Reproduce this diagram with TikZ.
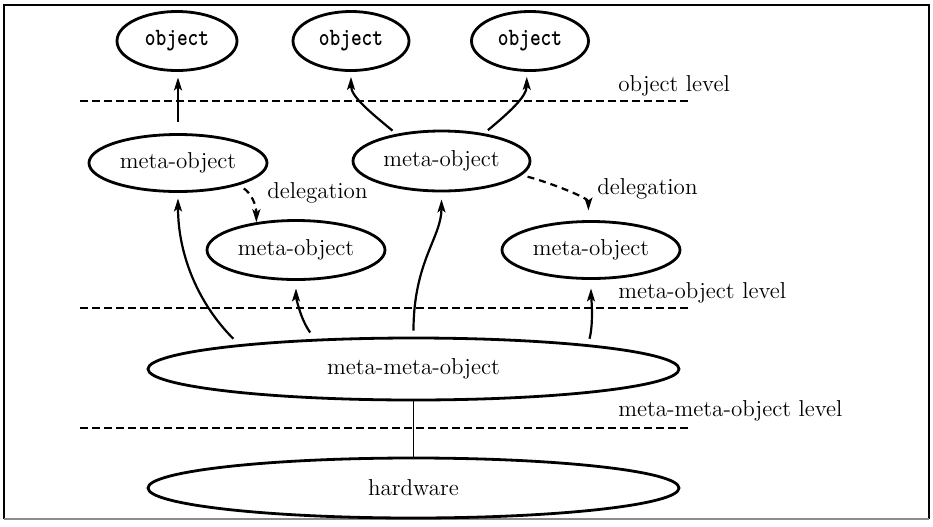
\documentclass[tikz,border=0pt]{standalone}
\usepackage{fontspec}
\usepackage{graphicx}
\usetikzlibrary{shapes.geometric,arrows.meta}
\newcommand\objlabel[1]{\scalebox{1}[1.22]{#1}}
\begin{document}
\begin{tikzpicture}[x=0.5pt,y=-0.5pt,
  ell/.style={ellipse, draw, line width=1.4pt, inner sep=0pt, font=\fontsize{11.5}{13}\selectfont},
  objnode/.style={ell, font=\fontsize{10.2}{12}\selectfont\ttfamily\bfseries},
  lvl/.style={dash pattern=on 3.75pt off 2.25pt, line width=1pt},
  lbl/.style={anchor=base west, inner sep=0pt, font=\fontsize{11.5}{13}\selectfont},
  arr/.style={line width=1.1pt, -{Stealth[length=6.5pt,width=4pt,inset=1.5pt]}},
  deleg/.style={arr, dash pattern=on 3.5pt off 2.5pt},
  conn/.style={line width=0.8pt},
]
\useasboundingbox (0,0) rectangle (933,526);
% frame
\draw[line width=1pt] (4,519) -- (4,5) -- (929,5) -- (929,519);
\draw[line width=1pt, black!45] (4,519) -- (929,519);

% nodes
\node[objnode, minimum width=60pt, minimum height=29.5pt] (o1) at (177,41) {\objlabel{object}};
\node[objnode, minimum width=58pt, minimum height=29.5pt] (o2) at (351,41) {\objlabel{object}};
\node[objnode, minimum width=58.5pt, minimum height=29.5pt] (o3) at (530,41) {\objlabel{object}};
\node[ell, minimum width=89pt, minimum height=28.5pt] (m1) at (178,163) {meta-object};
\node[ell, minimum width=88.5pt, minimum height=30pt] (m2) at (441.5,161) {meta-object};
\node[ell, minimum width=89pt, minimum height=29.5pt] (d1) at (296,250) {meta-object};
\node[ell, minimum width=89pt, minimum height=28.5pt] (d2) at (591,250) {meta-object};
\node[ell, minimum width=265.5pt, minimum height=31pt] (mm) at (413.5,369) {meta-meta-object};
\node[ell, minimum width=265.5pt, minimum height=30pt] (hw) at (413.5,488) {hardware};

% level lines
\coordinate (l1a) at (80,101); \coordinate (l1b) at (688,101);
\coordinate (l2a) at (80,308); \coordinate (l2b) at (688,308);
\coordinate (l3a) at (80,428); \coordinate (l3b) at (688,428);
\draw[lvl] (l1a) -- (l1b);
\draw[lvl] (l2a) -- (l2b);
\draw[lvl] (l3a) -- (l3b);

% labels
\node[lbl] (t1) at (618,91) {object level};
\node[lbl] (t2) at (618,298) {meta-object level};
\node[lbl] (t3) at (618,416) {meta-meta-object level};
\node[lbl] (g1) at (267,198) {delegation};
\node[lbl] (g2) at (597,194) {delegation};

% meta-object -> object
\draw[arr, shorten <=5.75pt, shorten >=2.75pt] (m1.north) -- (m1.north |- o1.south);
\draw[arr, shorten <=2.5pt, shorten >=2.5pt] (m2.149) .. controls +(-24,-20) and +(0,25) .. (o2.south);
\draw[arr, shorten <=2.5pt, shorten >=2.5pt] (m2.33) .. controls +(24,-20) and +(0,25) .. (o3.264);

% delegation
\draw[deleg, shorten <=3pt] (m1.-20) .. controls +(12,8) and +(0,-18) .. (d1.145);
\draw[deleg, shorten <=3pt, shorten >=4.8pt] (m2.-10) .. controls +(30,8) and +(0,-22) .. (d2.95);

% meta-meta-object -> meta-objects
\draw[arr, shorten <=4pt, shorten >=2.75pt] (mm.172) .. controls +(-40,-40) and +(0,63) .. (m1.south);
\draw[arr, shorten <=4pt, shorten >=3.75pt] (mm.163) .. controls +(-15,-20) and +(0,15) .. (d1.south);
\draw[arr, shorten <=3pt, shorten >=3.5pt] (mm.north) .. controls +(0,-75) and +(0,45) .. (m2.south);
\draw[arr, shorten <=3pt, shorten >=4.25pt] (mm.8.7) .. controls +(6,-22) and +(0,12) .. (d2.south);

% meta-meta-object -- hardware
\draw[conn] (mm.south) -- (hw.north);
\end{tikzpicture}
\end{document}
